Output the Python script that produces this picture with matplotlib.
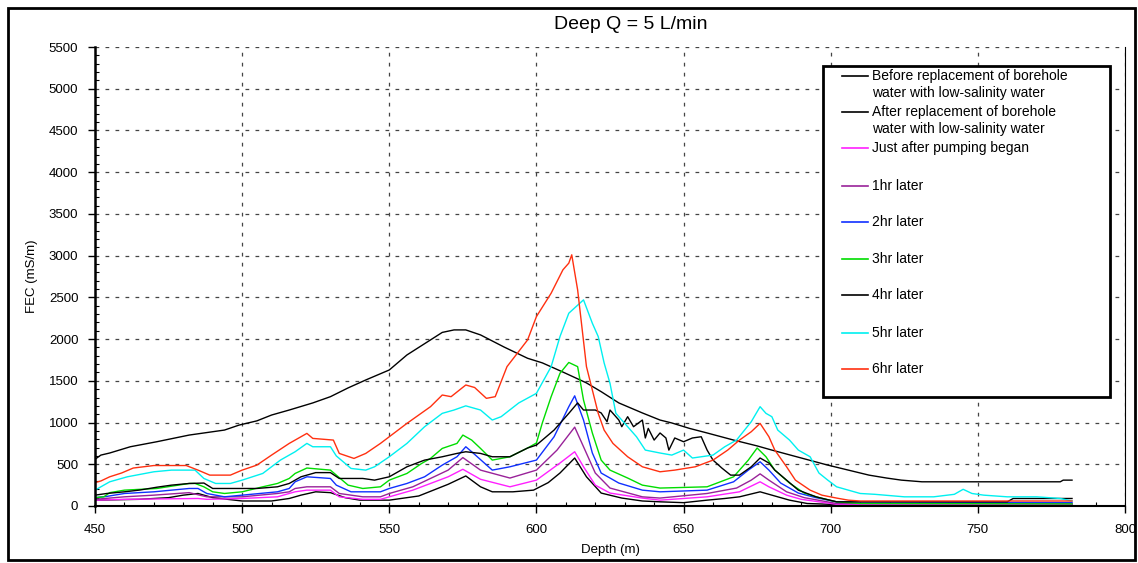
import matplotlib
matplotlib.use('Agg')
import matplotlib.pyplot as plt
from matplotlib.ticker import MultipleLocator
from matplotlib.patches import Rectangle

plt.rcParams['font.family'] = ['Liberation Sans', 'DejaVu Sans']

# Before replacement of borehole water
before_d = [450, 452, 455, 462, 471, 482, 494, 499, 505, 510, 516, 524, 530, 536, 542, 550, 556, 564, 568, 572,
            576, 581, 589, 597, 602, 609, 617, 622, 628, 636, 642, 646, 652, 658, 667, 675, 680, 690, 699, 706,
            713, 719, 724, 731, 760, 778, 779, 782]
before_v = [560, 610, 635, 710, 770, 850, 910, 970, 1020, 1090, 1150, 1235, 1310, 1415, 1510, 1630, 1810, 1990, 2080, 2110,
            2110, 2050, 1905, 1770, 1715, 1605, 1475, 1370, 1235, 1115, 1030, 995, 930, 875, 790, 720, 670, 575, 490, 430,
            370, 335, 310, 290, 290, 290, 310, 310]

# After replacement
after_d = [450, 465, 475, 480, 485, 490, 500, 510, 516, 520, 525, 530, 535, 540, 550, 560, 570, 576, 581, 585,
           592, 599, 604, 608, 613, 617, 622, 629, 636, 642, 650, 658, 664, 669, 676, 680, 686, 692, 700, 782]
after_v = [70, 80, 100, 130, 150, 100, 60, 60, 90, 130, 170, 160, 100, 70, 70, 120, 260, 360, 230, 170,
           170, 190, 280, 395, 575, 350, 155, 95, 60, 50, 40, 70, 90, 110, 170, 130, 70, 30, 20, 20]

# Just after pumping began
h0_d = [450, 460, 485, 488, 500, 512, 516, 518, 522, 530, 533, 541, 547, 550, 558, 564, 570, 575, 581, 591,
        600, 608, 613, 616, 620, 625, 636, 642, 658, 669, 676, 679, 685, 690, 702, 782]
h0_v = [70, 80, 90, 80, 90, 110, 150, 170, 190, 190, 110, 80, 80, 110, 190, 270, 350, 440, 320, 230,
        310, 515, 650, 470, 250, 155, 95, 70, 110, 170, 290, 230, 130, 80, 20, 15]

h1_d = [450, 460, 470, 482, 488, 500, 512, 516, 518, 522, 530, 533, 541, 547, 550, 558, 564, 570, 575, 581,
        591, 600, 607, 613, 616, 620, 625, 636, 642, 658, 668, 673, 676, 679, 685, 691, 702, 782]
h1_v = [80, 110, 130, 160, 110, 110, 150, 170, 210, 230, 230, 150, 110, 110, 150, 230, 330, 430, 580, 430,
        335, 430, 670, 945, 710, 395, 215, 110, 95, 150, 215, 310, 385, 310, 170, 100, 30, 30]

h2_d = [450, 454, 460, 470, 482, 485, 488, 494, 500, 512, 516, 518, 522, 530, 532, 537, 547, 550, 556, 562,
        568, 573, 576, 578, 585, 591, 600, 606, 611, 613, 616, 619, 622, 628, 636, 642, 658, 667, 672, 676,
        679, 683, 689, 695, 702, 782]
h2_v = [100, 115, 150, 170, 210, 210, 150, 110, 130, 170, 210, 290, 350, 330, 250, 170, 170, 210, 270, 350,
        490, 590, 710, 650, 430, 470, 550, 830, 1190, 1320, 1030, 635, 395, 275, 190, 170, 190, 290, 430, 530,
        430, 275, 155, 100, 50, 40]

h3_d = [450, 453, 455, 460, 471, 482, 484, 487, 490, 494, 500, 507, 512, 516, 518, 522, 530, 532, 536, 541,
        547, 550, 556, 561, 564, 568, 573, 575, 578, 581, 585, 591, 597, 600, 602, 605, 608, 611, 614, 616,
        619, 622, 625, 631, 636, 642, 658, 667, 672, 675, 678, 681, 686, 691, 696, 702, 710, 782]
h3_v = [100, 110, 160, 190, 210, 270, 270, 230, 170, 150, 170, 230, 270, 330, 390, 455, 430, 370, 250, 210,
        230, 310, 390, 510, 570, 690, 750, 850, 790, 690, 550, 590, 695, 755, 995, 1310, 1590, 1720, 1670, 1270,
        875, 550, 430, 335, 250, 215, 230, 350, 550, 695, 590, 430, 275, 155, 100, 50, 30, 25]

h4_d = [450, 454, 460, 465, 471, 476, 482, 487, 490, 505, 512, 516, 520, 525, 530, 533, 541, 545, 550, 556,
        562, 568, 573, 576, 581, 585, 591, 597, 600, 606, 611, 614, 616, 620, 622, 624, 625, 628, 629, 631,
        633, 636, 637, 638, 640, 642, 644, 645, 647, 650, 653, 656, 658, 660, 663, 666, 669, 673, 676, 679,
        681, 685, 689, 695, 702, 760, 762, 782]
h4_v = [130, 150, 170, 190, 225, 250, 270, 275, 210, 210, 230, 270, 350, 400, 400, 330, 330, 310, 350, 470,
        550, 590, 630, 650, 630, 590, 590, 695, 730, 910, 1110, 1235, 1150, 1150, 1115, 1010, 1150, 1030, 950, 1070,
        950, 1030, 815, 930, 790, 875, 815, 670, 815, 770, 815, 830, 670, 550, 455, 370, 370, 470, 575, 515,
        430, 310, 190, 110, 50, 50, 90, 90]

h5_d = [450, 452, 455, 461, 470, 476, 484, 487, 491, 496, 500, 507, 513, 518, 522, 524, 530, 532, 537, 542,
        545, 550, 556, 562, 568, 572, 576, 581, 585, 588, 594, 600, 605, 608, 611, 616, 619, 621, 623, 625,
        627, 631, 634, 637, 642, 646, 650, 653, 660, 664, 668, 673, 676, 678, 680, 682, 686, 689, 693, 696,
        699, 702, 705, 710, 715, 725, 735, 742, 745, 748, 752, 760, 770, 778, 782]
h5_v = [190, 230, 290, 350, 410, 430, 430, 330, 270, 270, 310, 390, 550, 650, 750, 710, 710, 600, 450, 430,
        470, 590, 750, 950, 1110, 1150, 1200, 1150, 1030, 1070, 1235, 1350, 1670, 2030, 2310, 2470, 2190, 2030, 1715, 1470,
        1110, 950, 830, 670, 635, 610, 670, 575, 610, 710, 790, 1010, 1190, 1110, 1070, 910, 790, 670, 590, 395,
        310, 230, 200, 150, 140, 110, 110, 140, 200, 150, 130, 110, 110, 90, 60]

h6_d = [450, 452, 455, 459, 463, 470, 481, 485, 489, 496, 500, 505, 510, 516, 518, 522, 524, 531, 533, 538,
        542, 547, 550, 556, 564, 568, 571, 576, 579, 583, 586, 590, 597, 600, 605, 609, 611, 612, 614, 617,
        619, 621, 623, 626, 631, 636, 642, 647, 654, 660, 665, 669, 673, 676, 679, 681, 685, 688, 693, 697,
        702, 706, 710, 782]
h6_v = [280, 300, 350, 395, 455, 485, 485, 430, 370, 370, 430, 490, 610, 750, 790, 870, 810, 790, 630, 570,
        630, 750, 830, 990, 1190, 1330, 1310, 1450, 1420, 1290, 1310, 1670, 1990, 2270, 2550, 2830, 2910, 3010, 2590, 1670,
        1390, 1110, 910, 750, 590, 470, 410, 430, 470, 550, 670, 790, 890, 990, 830, 670, 470, 310, 190, 130,
        95, 70, 60, 60]

labels = [
    ["Before replacement of borehole", "water with low-salinity water"],
    ["After replacement of borehole", "water with low-salinity water"],
    ["Just after pumping began"],
    ["1hr later"], ["2hr later"], ["3hr later"], ["4hr later"], ["5hr later"], ["6hr later"],
]
series = [(before_d, before_v), (after_d, after_v), (h0_d, h0_v), (h1_d, h1_v), (h2_d, h2_v),
          (h3_d, h3_v), (h4_d, h4_v), (h5_d, h5_v), (h6_d, h6_v)]
colors = ['black', 'black', '#ff20ff', '#992299', '#1030ff', '#00dd00', 'black', '#00f0f0', '#ff3010']

fig = plt.figure(figsize=(11.38, 5.63), dpi=100)
ax = fig.add_axes([95 / 1138, 1 - 506 / 563, 1030 / 1138, 459 / 563])

for (d, v), c in zip(series, colors):
    ax.plot(d, v, color=c, lw=1.0)

ax.set_xlim(450, 800)
ax.set_ylim(0, 5500)
ax.xaxis.set_major_locator(MultipleLocator(50))
ax.xaxis.set_minor_locator(MultipleLocator(10))
ax.yaxis.set_major_locator(MultipleLocator(500))
ax.yaxis.set_minor_locator(MultipleLocator(100))
ax.tick_params(which='major', direction='out', length=5, labelsize=9.5, width=1)
ax.tick_params(axis='x', which='major', pad=8)
ax.tick_params(axis='y', which='major', pad=7)
ax.tick_params(which='minor', direction='in', length=3, width=0.8)
ax.grid(True, which='major', linestyle=(0, (3, 5)), color='#444444', lw=0.9)
ax.spines['top'].set_visible(False)
ax.spines['left'].set_linewidth(1.8)
ax.spines['bottom'].set_linewidth(1.5)
ax.spines['right'].set_linewidth(0.8)

ax.set_title("Deep Q = 5 L/min", fontsize=14, x=0.52, pad=13)
ax.set_xlabel("Depth (m)", fontsize=9.5, labelpad=6)
ax.set_ylabel("FEC (mS/m)", fontsize=9.5, labelpad=8)

# legend box drawn by hand
def ay(py):
    return (506 - py) / 459

def ax_(px):
    return (px - 95) / 1030

ax.add_patch(Rectangle((ax_(823), ay(397)), ax_(1110) - ax_(823), ay(66) - ay(397),
                       transform=ax.transAxes, facecolor='white', edgecolor='black', lw=2, zorder=5))
line_y = [76, 112, 148, 186, 222, 259, 295, 333, 369]
for lab, c, py in zip(labels, colors, line_y):
    ax.plot([ax_(842), ax_(868)], [ay(py), ay(py)], transform=ax.transAxes, color=c, lw=1.2, zorder=6)
    for k, t in enumerate(lab):
        ax.text(ax_(872), ay(py + 16.5 * k), t, transform=ax.transAxes, fontsize=10, va='center',
                ha='left', zorder=6)

fig.patches.append(Rectangle((8 / 1138, 3 / 563), 1127 / 1138, 552 / 563, transform=fig.transFigure,
                             fill=False, edgecolor='black', lw=2))

fig.savefig('out.png', dpi=100)
